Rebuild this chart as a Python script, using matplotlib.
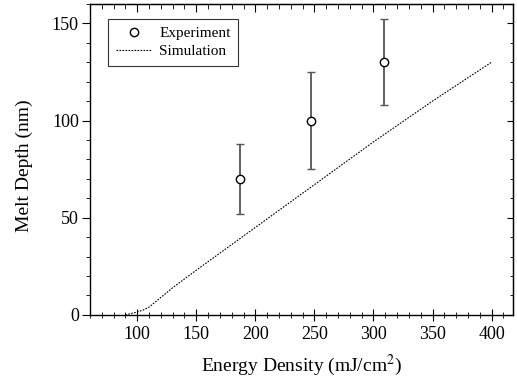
import matplotlib
matplotlib.use('Agg')
from matplotlib import pyplot as plt
from matplotlib.ticker import MultipleLocator

plt.rcParams['font.family'] = ['Liberation Serif', 'DejaVu Serif']
plt.rcParams['mathtext.fontset'] = 'stix'

# experiment points with error bars
exp_x = [187, 247, 309]
exp_y = [70, 100, 130]
exp_lo = [52, 75, 108]
exp_hi = [88, 125, 152]

# simulation curve
sim_x = [90, 100, 105, 110, 120, 130, 150, 175, 200, 250, 300, 350, 400]
sim_y = [0, 1.5, 2.5, 4, 9, 14, 23, 34, 45, 67, 89, 110, 130]

fig = plt.figure(figsize=(5.17, 3.85), dpi=100)
ax = fig.add_axes([0.174, 0.182, 0.818, 0.808])

yerr = [[y - lo for y, lo in zip(exp_y, exp_lo)],
        [hi - y for y, hi in zip(exp_y, exp_hi)]]
eb = ax.errorbar(exp_x, exp_y, yerr=yerr, fmt='none', ecolor='#555555',
                 elinewidth=1.3, capsize=2.8, capthick=1.0)
for cap in eb[1]:
    cap.set_color('black')
ax.plot(exp_x, exp_y, 'o', mfc='white', mec='black', ms=6, mew=1.0,
        label='Experiment', zorder=3)
ax.plot(sim_x, sim_y, color='black', lw=0.8, linestyle=(0, (1.5, 1.2)),
        label='Simulation')

ax.set_xlim(60, 418)
ax.set_ylim(0, 160)
ax.xaxis.set_major_locator(MultipleLocator(50))
ax.xaxis.set_minor_locator(MultipleLocator(10))
ax.yaxis.set_major_locator(MultipleLocator(50))
ax.yaxis.set_minor_locator(MultipleLocator(10))
ax.set_xticks([100, 150, 200, 250, 300, 350, 400])

ax.tick_params(axis='x', which='both', direction='inout', top=False,
               labelsize=13, pad=4)
ax.tick_params(axis='x', which='major', length=8)
ax.tick_params(axis='x', which='minor', length=5)
ax.tick_params(axis='y', which='both', direction='out', right=False,
               labelsize=13, pad=2)
ax.tick_params(axis='y', which='major', length=6)
ax.tick_params(axis='y', which='minor', length=3)

# top and right ticks pointing inward
sec_x = ax.secondary_xaxis('top')
sec_x.xaxis.set_major_locator(MultipleLocator(50))
sec_x.xaxis.set_minor_locator(MultipleLocator(10))
sec_x.tick_params(which='both', direction='in', labeltop=False)
sec_x.tick_params(which='major', length=6)
sec_x.tick_params(which='minor', length=3.5)
sec_y = ax.secondary_yaxis('right')
sec_y.yaxis.set_major_locator(MultipleLocator(50))
sec_y.yaxis.set_minor_locator(MultipleLocator(10))
sec_y.tick_params(which='both', direction='in', labelright=False)
sec_y.tick_params(which='major', length=4)
sec_y.tick_params(which='minor', length=2.5)

for s in ax.spines.values():
    s.set_linewidth(1.0)

ax.set_xlabel('Energy Density (mJ/cm$^2$)', fontsize=14)
ax.set_ylabel('Melt Depth (nm)', fontsize=14)
ax.xaxis.set_label_coords(0.5, -0.122)
ax.yaxis.set_label_coords(-0.135, 0.48)

leg = ax.legend(loc='upper left', bbox_to_anchor=(0.043, 0.952), fontsize=11,
                frameon=True, fancybox=False, edgecolor='black',
                handlelength=2.4, handletextpad=0.45, borderpad=0.5,
                labelspacing=0.3, borderaxespad=0)
leg.get_frame().set_linewidth(0.8)

fig.savefig('out.png', dpi=100)
